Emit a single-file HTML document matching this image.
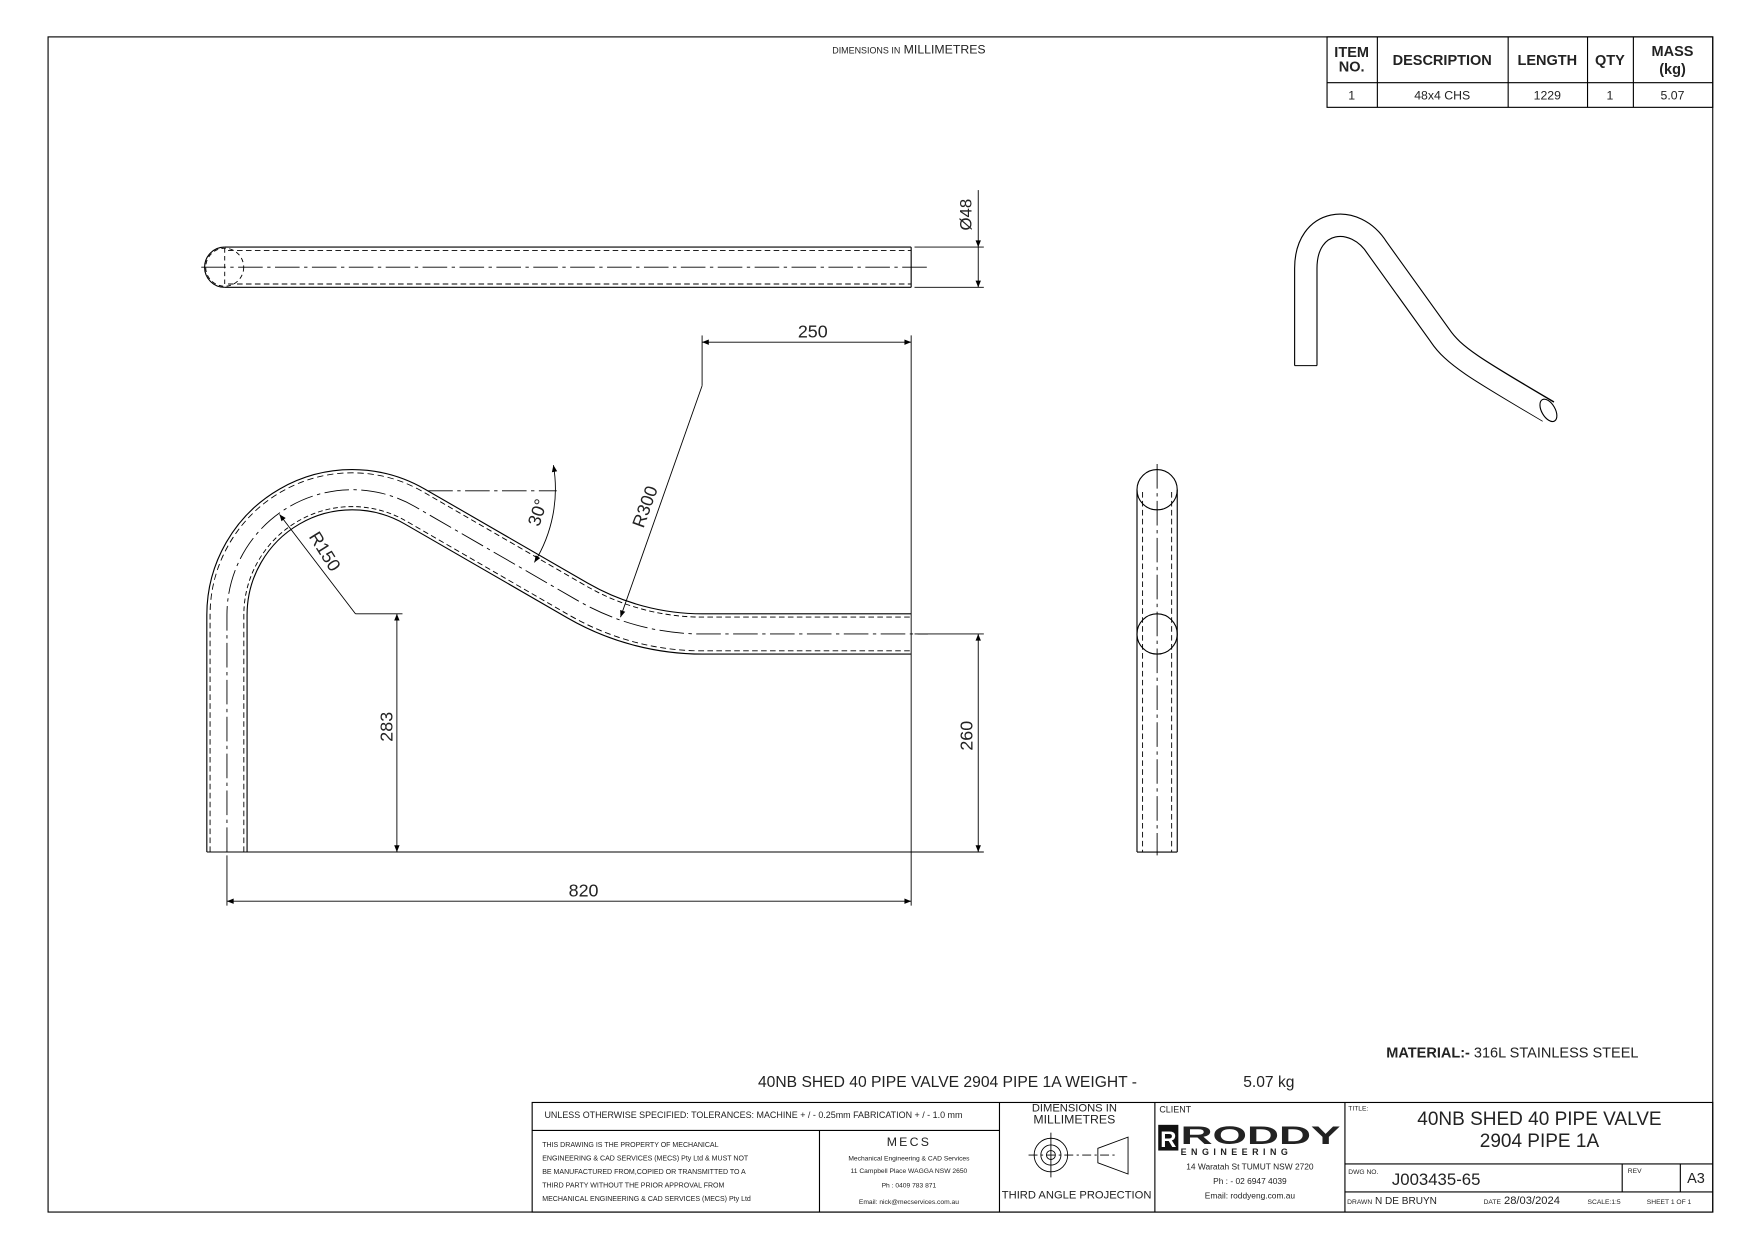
<!DOCTYPE html>
<html><head><meta charset="utf-8"><style>
html,body{margin:0;padding:0;background:#fff;}
svg{display:block;}
text{font-family:"Liberation Sans",sans-serif;fill:#222;}
</style></head><body>
<svg width="1753" height="1240" viewBox="0 0 1568 1109" preserveAspectRatio="none" xmlns="http://www.w3.org/2000/svg">
<defs>
<marker id="ar" viewBox="0 0 10 10" refX="10" refY="5" markerWidth="9" markerHeight="6" orient="auto-start-reverse" markerUnits="userSpaceOnUse"><path d="M0,1 L10,5 L0,9 z" fill="#000"/></marker>
</defs>
<rect x="43" y="33" width="1489" height="1051" fill="none" stroke="#000" stroke-width="1"/>
<text x="813" y="48" font-size="11" text-anchor="middle"><tspan font-size="8">DIMENSIONS IN</tspan>  MILLIMETRES</text>

<!-- BOM -->
<g stroke="#000" stroke-width="1" fill="none">
<rect x="1187" y="33" width="345" height="63"/>
<line x1="1187" y1="74" x2="1532" y2="74"/>
<line x1="1232" y1="33" x2="1232" y2="96"/>
<line x1="1349" y1="33" x2="1349" y2="96"/>
<line x1="1420" y1="33" x2="1420" y2="96"/>
<line x1="1461" y1="33" x2="1461" y2="96"/>
</g>
<g font-size="13" font-weight="bold" text-anchor="middle">
<text x="1209" y="51">ITEM</text><text x="1209" y="64">NO.</text>
<text x="1290" y="58">DESCRIPTION</text>
<text x="1384" y="58">LENGTH</text>
<text x="1440" y="58">QTY</text>
<text x="1496" y="50">MASS</text><text x="1496" y="66">(kg)</text>
</g>
<g font-size="11" text-anchor="middle">
<text x="1209" y="89">1</text><text x="1290" y="89">48x4 CHS</text><text x="1384" y="89">1229</text><text x="1440" y="89">1</text><text x="1496" y="89">5.07</text>
</g>

<!-- Top view -->
<g fill="none" stroke="#000">
<line x1="201" y1="221" x2="815" y2="221"/>
<line x1="201" y1="257" x2="815" y2="257"/>
<line x1="815" y1="221" x2="815" y2="257"/>
<path d="M201,221 A18,18 0 0 0 201,257" />
<circle cx="201" cy="239" r="17" stroke-dasharray="4,3" stroke-width="0.8"/>
<line x1="204" y1="224" x2="815" y2="224" stroke-dasharray="5,3" stroke-width="0.8"/>
<line x1="204" y1="254" x2="815" y2="254" stroke-dasharray="5,3" stroke-width="0.8"/>
<line x1="180" y1="239" x2="830" y2="239" stroke-dasharray="22,4,3,4" stroke-width="0.8"/>
<line x1="201" y1="222" x2="201" y2="256" stroke-dasharray="4,3" stroke-width="0.8"/>
<line x1="818" y1="221" x2="880" y2="221" stroke-width="0.8"/>
<line x1="818" y1="257" x2="880" y2="257" stroke-width="0.8"/>
<line x1="875" y1="170" x2="875" y2="221" stroke-width="0.8" marker-end="url(#ar)"/>
<line x1="875" y1="257" x2="875" y2="221" stroke-width="0.8" marker-start="url(#ar)"/>
</g>
<text transform="translate(869,192) rotate(-90)" font-size="15" text-anchor="middle">Ø48</text>

<!-- Front view pipe -->
<g fill="none" stroke-linejoin="round">
<path id="cl" d="M203,762 L203,550 A112,112 0 0 1 371,453 L516.5,537 A224,224 0 0 0 628.5,567 L815,567" stroke="#000" stroke-width="37"/>
<path d="M203,763 L203,550 A112,112 0 0 1 371,453 L516.5,537 A224,224 0 0 0 628.5,567 L816,567" stroke="#fff" stroke-width="35"/>
<path d="M203,762 L203,550 A112,112 0 0 1 371,453 L516.5,537 A224,224 0 0 0 628.5,567 L815,567" stroke="#000" stroke-width="31" stroke-dasharray="5,3"/>
<path d="M203,763 L203,550 A112,112 0 0 1 371,453 L516.5,537 A224,224 0 0 0 628.5,567 L816,567" stroke="#fff" stroke-width="29.4"/>
<path d="M203,762 L203,550 A112,112 0 0 1 371,453 L516.5,537 A224,224 0 0 0 628.5,567 L830,567" stroke="#000" stroke-width="0.8" stroke-dasharray="22,4,3,4"/>
</g>
<g stroke="#000" fill="none">
<line x1="185" y1="762" x2="880" y2="762" stroke-width="0.9"/>
<line x1="815" y1="300" x2="815" y2="810" stroke-width="0.8"/>
<line x1="203" y1="765" x2="203" y2="810" stroke-width="0.8"/>
<line x1="203" y1="806" x2="815" y2="806" stroke-width="0.8" marker-start="url(#ar)" marker-end="url(#ar)"/>
<line x1="628" y1="300" x2="628" y2="345" stroke-width="0.8"/>
<line x1="628" y1="306" x2="815" y2="306" stroke-width="0.8" marker-start="url(#ar)" marker-end="url(#ar)"/>
<line x1="628" y1="345" x2="555" y2="552" stroke-width="0.8" marker-end="url(#ar)"/>
<polyline points="318,549 250,460" stroke-width="0.8" marker-end="url(#ar)"/>
<line x1="318" y1="549" x2="360" y2="549" stroke-width="0.8"/>
<line x1="355" y1="549" x2="355" y2="762" stroke-width="0.8" marker-start="url(#ar)" marker-end="url(#ar)"/>
<line x1="818" y1="567" x2="880" y2="567" stroke-width="0.8"/>
<line x1="875" y1="567" x2="875" y2="762" stroke-width="0.8" marker-start="url(#ar)" marker-end="url(#ar)"/>
<line x1="383" y1="439" x2="498" y2="439" stroke-width="0.8" stroke-dasharray="22,4,3,4"/>
<path d="M495,416 A125,125 0 0 1 478,503" stroke-width="0.8" marker-start="url(#ar)" marker-end="url(#ar)"/>
</g>
<g font-size="16">
<text x="522" y="802" text-anchor="middle">820</text>
<text x="727" y="302" text-anchor="middle">250</text>
<text transform="translate(582,455) rotate(-70)" text-anchor="middle">R300</text>
<text transform="translate(286,496) rotate(58)" text-anchor="middle">R150</text>
<text transform="translate(486,460) rotate(-72)" text-anchor="middle">30°</text>
<text transform="translate(351,650) rotate(-90)" text-anchor="middle">283</text>
<text transform="translate(870,658) rotate(-90)" text-anchor="middle">260</text>
</g>

<!-- Side view -->
<g fill="none" stroke="#000">
<line x1="1017" y1="438" x2="1017" y2="762"/>
<line x1="1053" y1="438" x2="1053" y2="762"/>
<line x1="1017" y1="762" x2="1053" y2="762"/>
<circle cx="1035" cy="438" r="18"/>
<circle cx="1035" cy="567" r="18"/>
<line x1="1022" y1="440" x2="1022" y2="762" stroke-dasharray="5,3" stroke-width="0.8"/>
<line x1="1048" y1="440" x2="1048" y2="762" stroke-dasharray="5,3" stroke-width="0.8"/>
<line x1="1035" y1="415" x2="1035" y2="765" stroke-dasharray="22,4,3,4" stroke-width="0.8"/>
</g>

<!-- Iso view -->
<g fill="none" stroke-linecap="butt">
<path d="M1168,327 L1168,240 C1168,195 1212,190 1232,222 L1288,300 C1300,318 1320,330 1385,368" stroke="#000" stroke-width="21"/>
<path d="M1168,328 L1168,240 C1168,195 1212,190 1232,222 L1288,300 C1300,318 1320,330 1386,369" stroke="#fff" stroke-width="19"/>
</g>
<ellipse cx="1385" cy="367" rx="6" ry="11" transform="rotate(-30 1385 367)" fill="#fff" stroke="#000"/>
<line x1="1158" y1="327" x2="1178" y2="327" stroke="#000"/>

<text x="1240" y="946" font-size="13"><tspan font-weight="bold">MATERIAL:-</tspan>  316L STAINLESS STEEL</text>
<text x="678" y="972" font-size="14">40NB SHED 40 PIPE VALVE 2904 PIPE 1A WEIGHT -</text>
<text x="1112" y="972" font-size="14">5.07 kg</text>

<!-- Title block -->
<g stroke="#000" fill="none" stroke-width="1">
<rect x="476" y="986" width="1056" height="98"/>
<line x1="476" y1="1011" x2="894" y2="1011"/>
<line x1="733" y1="1011" x2="733" y2="1084"/>
<line x1="894" y1="986" x2="894" y2="1084"/>
<line x1="1033" y1="986" x2="1033" y2="1084"/>
<line x1="1203" y1="986" x2="1203" y2="1084"/>
<line x1="1203" y1="1041" x2="1532" y2="1041"/>
<line x1="1203" y1="1066" x2="1532" y2="1066"/>
<line x1="1451" y1="1041" x2="1451" y2="1066"/>
<line x1="1503" y1="1041" x2="1503" y2="1066"/>
</g>
<text x="487" y="1000" font-size="8">UNLESS OTHERWISE SPECIFIED: TOLERANCES: MACHINE + / - 0.25mm  FABRICATION + / - 1.0 mm</text>
<text x="961" y="994" font-size="10" text-anchor="middle">DIMENSIONS IN</text>
<text x="961" y="1005" font-size="11" text-anchor="middle">MILLIMETRES</text>
<g font-size="6.3">
<text x="485" y="1026">THIS DRAWING IS THE PROPERTY OF MECHANICAL</text>
<text x="485" y="1038">ENGINEERING &amp; CAD SERVICES (MECS) Pty Ltd &amp; MUST NOT</text>
<text x="485" y="1050">BE MANUFACTURED FROM,COPIED OR TRANSMITTED TO A</text>
<text x="485" y="1062">THIRD PARTY WITHOUT THE PRIOR APPROVAL FROM</text>
<text x="485" y="1074">MECHANICAL ENGINEERING &amp; CAD SERVICES (MECS) Pty Ltd</text>
</g>
<g text-anchor="middle" font-size="6">
<text x="813" y="1025" font-size="11" letter-spacing="2">MECS</text>
<text x="813" y="1038">Mechanical Engineering &amp; CAD Services</text>
<text x="813" y="1049">11 Campbell Place WAGGA NSW 2650</text>
<text x="813" y="1062">Ph : 0409 783 871</text>
<text x="813" y="1077">Email: nick@mecservices.com.au</text>
</g>
<g fill="none" stroke="#000" stroke-width="0.8">
<circle cx="940" cy="1033" r="15"/><circle cx="940" cy="1033" r="9"/><circle cx="940" cy="1033" r="4"/>
<line x1="920" y1="1033" x2="998" y2="1033" stroke-dasharray="8,3,2,3"/>
<line x1="940" y1="1013" x2="940" y2="1053"/>
<path d="M982,1027 L1009,1017 L1009,1050 L982,1040 Z"/>
</g>
<text x="963" y="1072" font-size="10" text-anchor="middle">THIRD ANGLE PROJECTION</text>
<text x="1037" y="995" font-size="8">CLIENT</text>
<rect x="1036" y="1006" width="18" height="23" fill="#111"/>
<text x="1045" y="1026" font-size="20" font-weight="bold" fill="#fff" text-anchor="middle" style="fill:#fff">R</text>
<text x="1056" y="1023" font-size="22" font-weight="bold" fill="#000" textLength="143" lengthAdjust="spacingAndGlyphs">RODDY</text>
<text x="1056" y="1033" font-size="8" font-weight="bold" letter-spacing="4">ENGINEERING</text>
<g text-anchor="middle" font-size="7.5">
<text x="1118" y="1046">14 Waratah St TUMUT NSW 2720</text>
<text x="1118" y="1059">Ph : - 02 6947 4039</text>
<text x="1118" y="1072">Email: roddyeng.com.au</text>
</g>
<text x="1206" y="993" font-size="6">TITLE:</text>
<text x="1377" y="1006" font-size="17" text-anchor="middle">40NB SHED 40 PIPE VALVE</text>
<text x="1377" y="1026" font-size="17" text-anchor="middle">2904 PIPE 1A</text>
<text x="1206" y="1050" font-size="6">DWG NO.</text>
<text x="1245" y="1060" font-size="15">J003435-65</text>
<text x="1456" y="1049" font-size="6">REV</text>
<text x="1517" y="1058" font-size="13" text-anchor="middle">A3</text>
<text x="1205" y="1077" font-size="9"><tspan font-size="6">DRAWN</tspan> N DE BRUYN</text>
<text x="1327" y="1077" font-size="10"><tspan font-size="6">DATE</tspan> 28/03/2024</text>
<text x="1420" y="1077" font-size="6">SCALE:1:5</text>
<text x="1473" y="1077" font-size="6">SHEET 1 OF 1</text>
</svg>
</body></html>
